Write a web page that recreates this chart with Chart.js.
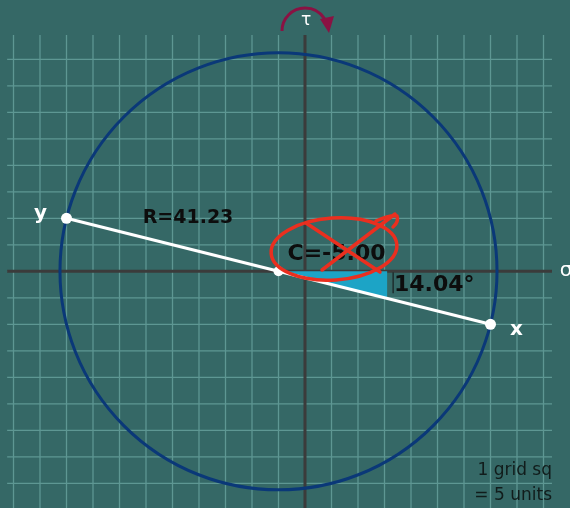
<!DOCTYPE html>
<html>
<head>
<meta charset="utf-8">
<script src="https://cdn.jsdelivr.net/npm/chart.js@4/dist/chart.umd.min.js"></script>
<style>
  html, body { margin: 0; padding: 0; background: #356866; }
  #wrap { width: 570px; height: 508px; position: relative; }
</style>
</head>
<body>
<div id="wrap"><canvas id="chart"></canvas></div>
<script>
// Mohr's circle values
const pointLabels = ['x', 'y'];
const pointSigma = [35, -45];
const pointTau = [-10, 10];
const centerSigma = -5;
const radius = 41.23;
const angleDeg = 14.04;
const unitNote = ['1 grid sq', '= 5 units'];

// grid lines (1 grid square = 5 units)
const sigmaGrid = [-55, -50, -45, -40, -35, -30, -25, -20, -15, -10, -5, 0, 5, 10, 15, 20, 25, 30, 35, 40, 45];
const tauGrid = [-40, -35, -30, -25, -20, -15, -10, -5, 0, 5, 10, 15, 20, 25, 30, 35, 40];
const sigmaExtent = [-56.2, 46.6];
const tauExtent = [-44.7, 44.6];

const diameter = pointSigma.map((s, i) => ({ x: s, y: pointTau[i] }));

const mohrPlugin = {
    id: 'mohr',
    beforeDatasetsDraw(chart) {
        const ctx = chart.ctx;
        const xs = chart.scales.x, ys = chart.scales.y;
        const px = v => xs.getPixelForValue(v);
        const py = v => ys.getPixelForValue(v);
        ctx.save();
        // grid
        ctx.strokeStyle = '#5e9793';
        ctx.lineWidth = 1.3;
        sigmaGrid.forEach(s => {
            ctx.beginPath();
            ctx.moveTo(px(s), py(tauExtent[1]));
            ctx.lineTo(px(s), py(tauExtent[0]));
            ctx.stroke();
        });
        tauGrid.forEach(t => {
            ctx.beginPath();
            ctx.moveTo(px(sigmaExtent[0]), py(t));
            ctx.lineTo(px(sigmaExtent[1]), py(t));
            ctx.stroke();
        });
        // axes
        ctx.strokeStyle = '#3b3b3b';
        ctx.lineWidth = 3;
        ctx.beginPath();
        ctx.moveTo(px(sigmaExtent[0]), py(0));
        ctx.lineTo(px(sigmaExtent[1]), py(0));
        ctx.moveTo(px(0), py(tauExtent[1]));
        ctx.lineTo(px(0), chart.height);
        ctx.stroke();
        // circle
        const cx = px(centerSigma), cy = py(0);
        const r = px(centerSigma + radius) - cx;
        ctx.strokeStyle = '#0a3878';
        ctx.lineWidth = 3;
        ctx.beginPath();
        ctx.arc(cx, cy, r, 0, Math.PI * 2);
        ctx.stroke();
        // angle wedge
        const edge = 15.5;
        const slope = (pointTau[0] - 0) / (pointSigma[0] - centerSigma);
        ctx.fillStyle = '#1ca4c6';
        ctx.beginPath();
        ctx.moveTo(cx, cy);
        ctx.lineTo(px(edge), cy);
        ctx.lineTo(px(edge), py((edge - centerSigma) * slope));
        ctx.closePath();
        ctx.fill();
        ctx.strokeStyle = '#1e2e2e';
        ctx.lineWidth = 1.5;
        ctx.beginPath();
        ctx.moveTo(px(edge) + 6, cy + 1);
        ctx.lineTo(px(edge) + 6, cy + 22);
        ctx.stroke();
        ctx.restore();
    },
    afterDatasetsDraw(chart) {
        const ctx = chart.ctx;
        const xs = chart.scales.x, ys = chart.scales.y;
        const px = v => xs.getPixelForValue(v);
        const py = v => ys.getPixelForValue(v);
        const cx = px(centerSigma), cy = py(0);
        ctx.save();
        ctx.textAlign = 'center';
        ctx.textBaseline = 'middle';
        // point names
        ctx.fillStyle = '#ffffff';
        ctx.font = 'bold 20px "DejaVu Sans"';
        ctx.fillText(pointLabels[1], px(pointSigma[1]) - 26, py(pointTau[1]) - 5);
        ctx.fillText(pointLabels[0], px(pointSigma[0]) + 26, py(pointTau[0]) + 5);
        // axis names
        ctx.font = '20px "DejaVu Sans"';
        ctx.fillText('σ', 566, cy - 1);
        ctx.font = '17px "DejaVu Sans"';
        ctx.fillText('τ', px(0) + 1, 21);
        // values
        ctx.fillStyle = '#0d0d0d';
        ctx.font = 'bold 19px "DejaVu Sans"';
        ctx.fillText('R=' + radius.toFixed(2), 188, 218);
        ctx.font = 'bold 22px "DejaVu Sans"';
        ctx.fillText('C=' + centerSigma.toFixed(2), cx + 58, cy - 17);
        ctx.textAlign = 'left';
        ctx.fillText(angleDeg.toFixed(2) + '°', 394, cy + 14);
        // unit note
        ctx.textAlign = 'right';
        ctx.fillStyle = '#111c1b';
        ctx.font = '17px "DejaVu Sans"';
        ctx.fillText(unitNote[0], 552, 471);
        ctx.fillText(unitNote[1], 552, 496);
        // rotation arrow
        ctx.strokeStyle = '#8a1243';
        ctx.fillStyle = '#8a1243';
        ctx.lineWidth = 3;
        ctx.beginPath();
        ctx.arc(px(0), 31, 23, Math.PI, Math.PI * 1.82);
        ctx.stroke();
        ctx.beginPath();
        ctx.moveTo(px(0) + 24, 33);
        ctx.lineTo(px(0) + 15, 19);
        ctx.lineTo(px(0) + 29, 16);
        ctx.closePath();
        ctx.fill();
        // red scribble over the centre value
        ctx.strokeStyle = '#ea2f1f';
        ctx.lineWidth = 3.5;
        ctx.lineCap = 'round';
        ctx.lineJoin = 'round';
        ctx.beginPath();
        ctx.ellipse(334, 249, 63, 31, -0.07, 0, Math.PI * 2);
        ctx.stroke();
        ctx.beginPath();
        ctx.moveTo(376, 221);
        ctx.quadraticCurveTo(390, 215, 397, 216);
        ctx.quadraticCurveTo(399, 222, 393, 227);
        ctx.moveTo(306, 223);
        ctx.lineTo(380, 272);
        ctx.moveTo(322, 270);
        ctx.lineTo(395, 214);
        ctx.stroke();
        ctx.restore();
    }
};

new Chart(document.getElementById('chart'), {
    type: 'scatter',
    data: {
        datasets: [{
            data: diameter,
            showLine: true,
            borderColor: '#ffffff',
            borderWidth: 3,
            pointRadius: 5.5,
            pointBackgroundColor: '#ffffff',
            pointBorderWidth: 0
        }, {
            data: [{ x: centerSigma, y: 0 }],
            pointRadius: 5,
            pointBackgroundColor: '#ffffff',
            pointBorderWidth: 0
        }]
    },
    options: {
        responsive: true,
        maintainAspectRatio: false,
        animation: false,
        layout: { padding: 0, autoPadding: false },
        plugins: { legend: { display: false }, tooltip: { enabled: false } },
        scales: {
            x: { type: 'linear', display: false, min: -57.547, max: 50.0 },
            y: { type: 'linear', display: false, min: -44.66, max: 51.19 }
        }
    },
    plugins: [mohrPlugin]
});
</script>
</body>
</html>
